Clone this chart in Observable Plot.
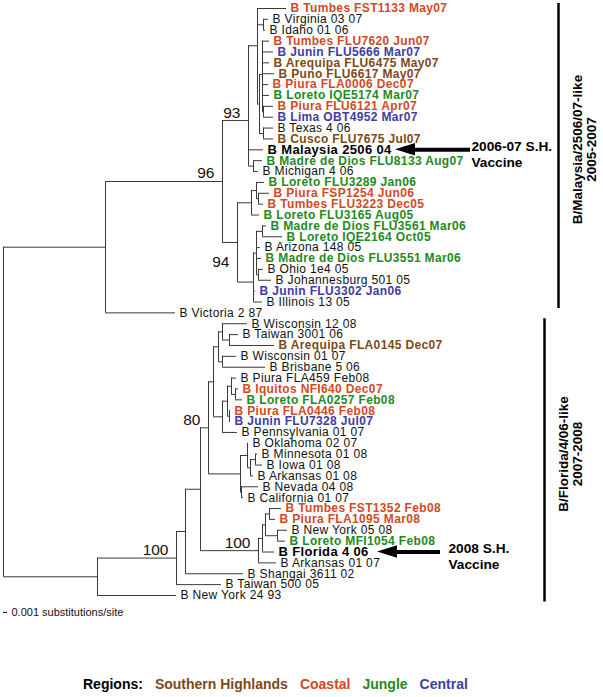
<!DOCTYPE html>
<html><head><meta charset="utf-8">
<script src="https://cdn.jsdelivr.net/npm/d3@7"></script>
<script src="https://cdn.jsdelivr.net/npm/@observablehq/plot@0.6"></script>
<style>
body{margin:0;background:#fff;font-family:"Liberation Sans",Arial,sans-serif;}
#legend{margin-top:46px;padding-left:83px;font-weight:bold;font-size:14px;line-height:16px;white-space:nowrap;}
#legend span{margin-left:12px}
#legend span:first-child{margin-left:0}
</style></head><body>
<div id="chart"></div>
<div id="legend"></div>
<script>
// Tree branches: [child, parent, branch length in 0.001 substitutions/site]
const branches = [
  ["A","root",25.5],
  ["L0","root",23.5],
  ["B","A",29.25],
  ["B Victoria 2 87","A",17.5],
  ["N93","B",6.5],
  ["N94","B",3.75],
  ["Ntop","N93",2.25],
  ["B Malaysia 2506 04","N93",3.75],
  ["NMM","N93",1.25],
  ["B Tumbes FST1133 May07","Ntop",7.25],
  ["NVI","Ntop",1.5],
  ["Nbig","Ntop",0.5],
  ["B Virginia 03 07","NVI",1.25],
  ["B Idaho 01 06","NVI",0.5],
  ["Na","Nbig",0.75],
  ["NTC","Nbig",1.0],
  ["B Tumbes FLU7620 Jun07","Na",1.75],
  ["B Junin FLU5666 Mar07","Na",2.75],
  ["B Arequipa FLU6475 May07","Na",1.75],
  ["B Puno FLU6617 May07","Na",3.0],
  ["B Piura FLA0006 Dec07","Na",1.5],
  ["B Loreto IQE5174 Mar07","Na",1.75],
  ["NPL","Na",0.25],
  ["B Piura FLU6121 Apr07","NPL",2.5],
  ["B Lima OBT4952 Mar07","NPL",2.5],
  ["B Texas 4 06","NTC",2.5],
  ["B Cusco FLU7675 Jul07","NTC",2.5],
  ["B Madre de Dios FLU8133 Aug07","NMM",2.25],
  ["B Michigan 4 06","NMM",1.25],
  ["NLP","N94",3.5],
  ["NAZ","N94",4.0],
  ["NLP2","NLP",1.25],
  ["B Loreto FLU3165 Aug05","NLP",2.0],
  ["B Loreto FLU3289 Jan06","NLP2",2.0],
  ["NPT","NLP2",0.5],
  ["B Piura FSP1254 Jun06","NPT",2.75],
  ["B Tumbes FLU3223 Dec05","NPT",1.25],
  ["NAZ2","NAZ",0.75],
  ["B Junin FLU3302 Jan06","NAZ",0.5],
  ["B Illinois 13 05","NAZ",2.25],
  ["NML","NAZ2",1.5],
  ["B Arizona 148 05","NAZ2",1.0],
  ["B Madre de Dios FLU3551 Mar06","NAZ2",1.25],
  ["NOJ","NAZ2",0.5],
  ["B Madre de Dios FLU3561 Mar06","NML",1.0],
  ["B Loreto IQE2164 Oct05","NML",5.0],
  ["B Ohio 1e4 05","NOJ",1.25],
  ["B Johannesburg 501 05","NOJ",3.25],
  ["L1","L0",19.75],
  ["B New York 24 93","L0",19.75],
  ["L2","L1",2.25],
  ["B Taiwan 500 05","L1",11.25],
  ["L3","L2",3.75],
  ["B Shangai 3611 02","L2",14.5],
  ["N80","L3",2.0],
  ["N100b","L3",14.5],
  ["Nu80","N80",1.25],
  ["Nlower","N80",8.0],
  ["NW","Nu80",1.25],
  ["NP","Nu80",2.25],
  ["NW1","NW",1.0],
  ["NW2","NW",1.0],
  ["B Wisconsin 12 08","NW1",6.25],
  ["NTA","NW1",1.75],
  ["B Taiwan 3001 06","NTA",2.25],
  ["B Arequipa FLA0145 Dec07","NTA",11.25],
  ["B Wisconsin 01 07","NW2",3.5],
  ["B Brisbane 5 06","NW2",10.75],
  ["NP2","NP",1.25],
  ["B Pennsylvania 01 07","NP",3.75],
  ["NP3","NP2",1.0],
  ["NP4","NP2",0.5],
  ["B Piura FLA459 Feb08","NP3",1.25],
  ["NIL","NP3",1.0],
  ["B Iquitos NFI640 Dec07","NIL",0.75],
  ["B Loreto FLA0257 Feb08","NIL",1.75],
  ["B Piura FLA0446 Feb08","NP4",0.25],
  ["B Junin FLU7328 Jul07","NP4",0.25],
  ["NOK","Nlower",1.75],
  ["NNC","Nlower",0.25],
  ["B Oklahoma 02 07","NOK",0.25],
  ["NMIA","NOK",0.75],
  ["NMI","NMIA",1.25],
  ["B Arkansas 01 08","NMIA",0.75],
  ["B Minnesota 01 08","NMI",0.5],
  ["B Iowa 01 08","NMI",1.75],
  ["B Nevada 04 08","NNC",4.25],
  ["B California 01 07","NNC",0.5],
  ["NFL","N100b",1.0],
  ["B Arkansas 01 07","N100b",4.5],
  ["NTPNY","NFL",0.75],
  ["B Florida 4 06","NFL",3.0],
  ["NTP","NTPNY",1.0],
  ["NNY","NTPNY",3.0],
  ["B Tumbes FST1352 Feb08","NTP",3.0],
  ["B Piura FLA1095 Mar08","NTP",1.5],
  ["B New York 05 08","NNY",2.5],
  ["B Loreto MFI1054 Feb08","NNY",2.0]
];

const regionNames = ["Southern Highlands","Coastal","Jungle","Central"];
const southernHighlands = ["B Arequipa FLU6475 May07","B Puno FLU6617 May07","B Cusco FLU7675 Jul07","B Arequipa FLA0145 Dec07"];
const coastal = ["B Tumbes FST1133 May07","B Tumbes FLU7620 Jun07","B Piura FLA0006 Dec07","B Piura FLU6121 Apr07","B Piura FSP1254 Jun06","B Tumbes FLU3223 Dec05","B Iquitos NFI640 Dec07","B Piura FLA0446 Feb08","B Tumbes FST1352 Feb08","B Piura FLA1095 Mar08"];
const jungle = ["B Loreto IQE5174 Mar07","B Madre de Dios FLU8133 Aug07","B Loreto FLU3289 Jan06","B Loreto FLU3165 Aug05","B Madre de Dios FLU3561 Mar06","B Loreto IQE2164 Oct05","B Madre de Dios FLU3551 Mar06","B Loreto FLA0257 Feb08","B Loreto MFI1054 Feb08"];
const central = ["B Junin FLU5666 Mar07","B Lima OBT4952 Mar07","B Junin FLU3302 Jan06","B Junin FLU7328 Jul07"];

const vaccineStrains = ["B Malaysia 2506 04","B Florida 4 06"];
const vaccineLabels = ["2006-07 S.H.\nVaccine","2008 S.H.\nVaccine"];

const bootstraps = [["N93",93],["B",96],["N94",94],["N80",80],["L1",100],["N100b",100]];

const clades = [
  ["B/Malaysia/2506/07-like\n2005-2007","B Tumbes FST1133 May07","B Illinois 13 05"],
  ["B/Florida/4/06-like\n2007-2008","B Wisconsin 12 08","B New York 24 93"]
];
const scaleBarLabel = "0.001 substitutions/site";

// ---------- layout of the tree from branch lengths ----------
const childrenOf = new Map(), lengthOf = new Map();
for (const [c, p, l] of branches) {
  if (!childrenOf.has(p)) childrenOf.set(p, []);
  childrenOf.get(p).push(c);
  lengthOf.set(c, l);
}
const pos = new Map();
let leafIndex = 0;
function layout(name, depth) {
  const kids = childrenOf.get(name) || [];
  if (!kids.length) { pos.set(name, {x: depth, y: leafIndex++}); return; }
  for (const k of kids) layout(k, depth + lengthOf.get(k));
  pos.set(name, {x: depth, y: d3.mean(kids, k => pos.get(k).y)});
}
layout("root", 0);

const hEdges = branches.map(([c, p]) => ({x1: pos.get(p).x, x2: pos.get(c).x, y: pos.get(c).y}));
const vEdges = [...childrenOf.entries()].map(([p, kids]) => ({
  x: pos.get(p).x,
  y1: d3.min(kids, k => pos.get(k).y),
  y2: d3.max(kids, k => pos.get(k).y)
}));

const regionOf = new Map();
southernHighlands.forEach(n => regionOf.set(n, "Southern Highlands"));
coastal.forEach(n => regionOf.set(n, "Coastal"));
jungle.forEach(n => regionOf.set(n, "Jungle"));
central.forEach(n => regionOf.set(n, "Central"));
const colorOf = {"Southern Highlands":"#7b4a17","Coastal":"#d24a1f","Jungle":"#1f8a22","Central":"#3d3da3"};

const leaves = branches.filter(([c]) => !childrenOf.has(c)).map(([c]) => ({
  name: c, x: pos.get(c).x, y: pos.get(c).y, region: regionOf.get(c)
}));
const coloredLeaves = leaves.filter(d => d.region);
const plainLeaves = leaves.filter(d => !d.region && !vaccineStrains.includes(d.name));
const vaccineLeaves = leaves.filter(d => vaccineStrains.includes(d.name));

const boots = bootstraps.map(([n, v]) => ({x: pos.get(n).x, y: pos.get(n).y, v: String(v), node: n}));

// annotation placement (x in tree units)
const vaccineLayout = [{tip: 98, end: 116.75, text: 117}, {tip: 93.5, end: 109.25, text: 111.25}];
const heads = vaccineStrains.flatMap((s, i) => {
  const y = pos.get(s).y, t = vaccineLayout[i].tip;
  return [{id: i, x: t, y1: y, y2: y}, {id: i, x: t + 5, y1: y - 0.57, y2: y + 0.57}];
});
const shafts = vaccineStrains.map((s, i) => ({y: pos.get(s).y, x1: vaccineLayout[i].tip + 4.5, x2: vaccineLayout[i].end}));
const vaccineText = vaccineStrains.map((s, i) => ({y: pos.get(s).y, x: vaccineLayout[i].text, label: vaccineLabels[i]}));

const cladeBarX = [138.75, 135.25];
const cladeData = clades.map(([label, a, b], i) => {
  const y1 = pos.get(a).y - 0.45, y2 = pos.get(b).y + 0.6;
  return {label, x: cladeBarX[i], y1, y2, ym: (y1 + y2) / 2 - 0.6};
});

const lastLeaf = leafIndex - 1;
const scaleBar = [{x1: 0, x2: 1, y: lastLeaf + 1.55}];

const font = "Liberation Sans, Arial, sans-serif";
const stroke = "#3a3a3a";

const chart = Plot.plot({
  width: 603, height: 630,
  marginLeft: 3, marginRight: 0, marginTop: 8, marginBottom: 35,
  x: {domain: [0, 150], axis: null},
  y: {domain: [0, lastLeaf], reverse: true, axis: null},
  color: {type: "identity"},
  style: {fontFamily: font, background: "white", overflow: "visible"},
  marks: [
    Plot.ruleY(hEdges, {y: "y", x1: "x1", x2: "x2", stroke, strokeWidth: 1}),
    Plot.ruleX(vEdges, {x: "x", y1: "y1", y2: "y2", stroke, strokeWidth: 1}),
    Plot.text(plainLeaves, {x: "x", y: "y", text: "name", dx: 4, textAnchor: "start", fill: "#111", fontSize: 12}),
    Plot.text(coloredLeaves, {x: "x", y: "y", text: "name", dx: 4, textAnchor: "start", fill: d => colorOf[d.region], fontSize: 12, fontWeight: "bold"}),
    Plot.text(vaccineLeaves, {x: "x", y: "y", text: "name", dx: 4, textAnchor: "start", fill: "#000", fontSize: 13, fontWeight: "bold"}),
    Plot.text(boots.filter(d => d.node !== "N94"), {x: "x", y: "y", text: "v", textAnchor: "end", dx: -8, dy: -8, fontSize: 15.5, fill: "#111"}),
    Plot.text(boots.filter(d => d.node === "N94"), {x: "x", y: "y", text: "v", textAnchor: "end", dx: -8, dy: 20, fontSize: 15.5, fill: "#111"}),
    Plot.areaY(heads, {x: "x", y1: "y1", y2: "y2", z: "id", fill: "#000"}),
    Plot.ruleY(shafts, {y: "y", x1: "x1", x2: "x2", stroke: "#000", strokeWidth: 4}),
    Plot.text(vaccineText, {x: "x", y: "y", text: "label", textAnchor: "start", dy: 4, fontSize: 13.7, fontWeight: "bold", lineHeight: 1.2, fill: "#000"}),
    Plot.ruleX(cladeData, {x: "x", y1: "y1", y2: "y2", stroke: "#000", strokeWidth: 2.5}),
    Plot.text(cladeData, {x: "x", y: "ym", text: "label", rotate: -90, dx: 26, textAnchor: "middle", fontSize: 13.5, fontWeight: "bold", lineHeight: 1.0, fill: "#000"}),
    Plot.ruleY(scaleBar, {y: "y", x1: "x1", x2: "x2", stroke: "#000", strokeWidth: 1}),
    Plot.text(scaleBar, {x: "x2", y: "y", text: () => scaleBarLabel, dx: 4, textAnchor: "start", fontSize: 11, fill: "#111"})
  ]
});
// widen leaf labels slightly (letter spacing) to match the original's wide lettering
const leafNames = new Set(leaves.map(d => d.name));
chart.querySelectorAll("text").forEach(t => {
  if (leafNames.has(t.textContent)) t.style.letterSpacing = "0.35px";
});
document.getElementById("chart").appendChild(chart);

const legend = document.getElementById("legend");
const head = document.createElement("span");
head.textContent = "Regions:";
head.style.color = "#000";
legend.appendChild(head);
for (const r of regionNames) {
  const s = document.createElement("span");
  s.textContent = r;
  s.style.color = colorOf[r];
  legend.appendChild(s);
}
</script></body></html>
